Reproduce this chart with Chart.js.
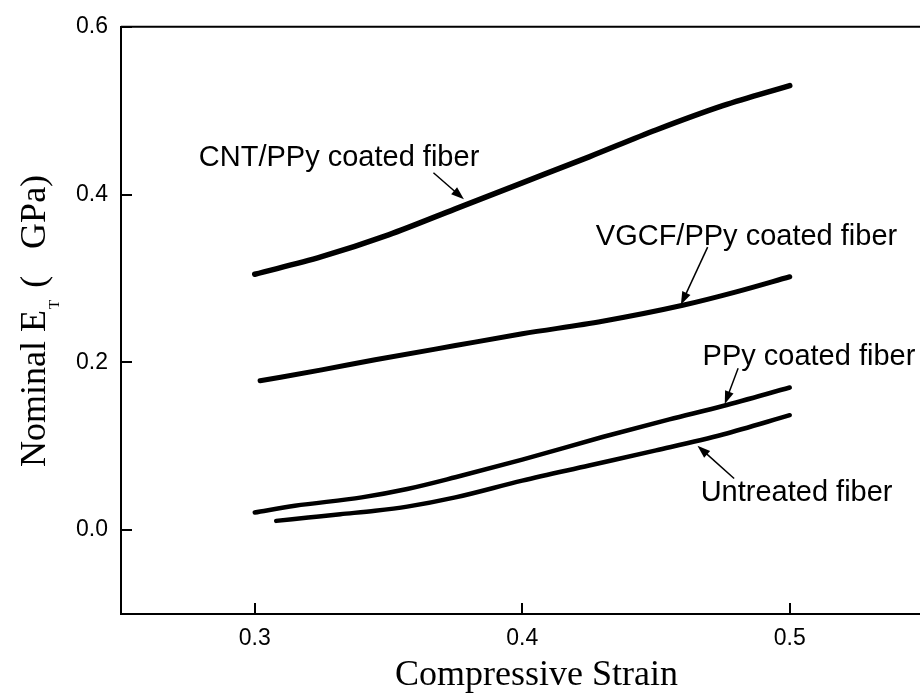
<!DOCTYPE html>
<html>
<head>
<meta charset="utf-8">
<script src="https://cdn.jsdelivr.net/npm/chart.js@4.4.0/dist/chart.umd.min.js"></script>
<style>
  html, body { margin: 0; padding: 0; background: #fff; overflow: hidden; }
  #wrap { position: relative; width: 930px; height: 700px; }
</style>
</head>
<body>
<div id="wrap"><canvas id="chart"></canvas></div>
<script>
// axis ticks
const xTicks = [0.3, 0.4, 0.5];
const yTicks = [0.0, 0.2, 0.4, 0.6];

// CNT/PPy coated fiber
const cntStrain = [0.300, 0.325, 0.350, 0.375, 0.400, 0.425, 0.450, 0.475, 0.500];
const cntModulus = [0.305, 0.326, 0.352, 0.383, 0.414, 0.445, 0.477, 0.506, 0.530];

// VGCF/PPy coated fiber
const vgcfStrain = [0.302, 0.325, 0.345, 0.375, 0.400, 0.430, 0.460, 0.480, 0.500];
const vgcfModulus = [0.178, 0.191, 0.203, 0.220, 0.234, 0.249, 0.268, 0.284, 0.302];

// PPy coated fiber
const ppyStrain = [0.300, 0.315, 0.340, 0.357, 0.375, 0.400, 0.430, 0.455, 0.475, 0.500];
const ppyModulus = [0.021, 0.029, 0.039, 0.049, 0.063, 0.084, 0.111, 0.132, 0.148, 0.170];

// Untreated fiber
const rawStrain = [0.308, 0.320, 0.332, 0.345, 0.357, 0.375, 0.400, 0.425, 0.450, 0.475, 0.500];
const rawModulus = [0.011, 0.015, 0.019, 0.023, 0.028, 0.039, 0.059, 0.077, 0.095, 0.114, 0.137];

const seriesNames = ['CNT/PPy coated fiber', 'VGCF/PPy coated fiber', 'PPy coated fiber', 'Untreated fiber'];

const toPoints = (xs, ys) => xs.map((x, i) => ({ x: x, y: ys[i] }));

/**
 * label placement in data units: text anchor, arrow tail, arrow tip
 */
const callouts = [
  { at: [0.2791, 0.4343], from: [0.3668, 0.4260], to: [0.3782, 0.3944] },
  { at: [0.4275, 0.3396], from: [0.4693, 0.3373], to: [0.4593, 0.2686] },
  { at: [0.4674, 0.1964], from: [0.4807, 0.1929], to: [0.4757, 0.1503] },
  { at: [0.4667, 0.0347], from: [0.4792, 0.0615], to: [0.4655, 0.1006] },
];

const sansFont = '"Liberation Sans", Arial, sans-serif';
const serifFont = '"Liberation Serif", "Times New Roman", serif';

function drawArrow(ctx, x0, y0, x1, y1) {
  const ang = Math.atan2(y1 - y0, x1 - x0);
  const len = 13;
  const half = 4.5;
  const c = Math.cos(ang), s = Math.sin(ang);
  ctx.lineWidth = 1.5;
  ctx.beginPath();
  ctx.moveTo(x0, y0);
  ctx.lineTo(x1 - c * len * 0.8, y1 - s * len * 0.8);
  ctx.stroke();
  ctx.beginPath();
  ctx.moveTo(x1, y1);
  ctx.lineTo(x1 - c * len + s * half, y1 - s * len - c * half);
  ctx.lineTo(x1 - c * len - s * half, y1 - s * len + c * half);
  ctx.closePath();
  ctx.fill();
}

const frameAndNotes = {
  id: 'frameAndNotes',
  afterDraw: (chart) => {
    const ctx = chart.ctx;
    const area = chart.chartArea;
    const sx = chart.scales.x;
    const sy = chart.scales.y;

    ctx.save();
    ctx.strokeStyle = '#000';
    ctx.fillStyle = '#000';

    // top / right frame
    ctx.lineWidth = 2;
    ctx.beginPath();
    ctx.moveTo(area.left, area.top);
    ctx.lineTo(area.right, area.top);
    ctx.lineTo(area.right, area.bottom);
    ctx.stroke();

    // inward tick marks
    xTicks.forEach(v => {
      const px = Math.round(sx.getPixelForValue(v));
      ctx.beginPath();
      ctx.moveTo(px, area.bottom);
      ctx.lineTo(px, area.bottom - 11);
      ctx.stroke();
    });
    yTicks.forEach(v => {
      const py = Math.round(sy.getPixelForValue(v));
      ctx.beginPath();
      ctx.moveTo(area.left, py);
      ctx.lineTo(area.left + 11, py);
      ctx.stroke();
    });

    // callouts
    ctx.font = `29px ${sansFont}`;
    ctx.textAlign = 'left';
    ctx.textBaseline = 'alphabetic';
    callouts.forEach((c, i) => {
      ctx.fillText(seriesNames[i], sx.getPixelForValue(c.at[0]), sy.getPixelForValue(c.at[1]));
      drawArrow(ctx,
        sx.getPixelForValue(c.from[0]), sy.getPixelForValue(c.from[1]),
        sx.getPixelForValue(c.to[0]), sy.getPixelForValue(c.to[1]));
    });

    // x title
    ctx.font = `36px ${serifFont}`;
    ctx.textAlign = 'center';
    ctx.fillText('Compressive Strain', (area.left + 952) / 2, 685);

    // y title with subscript
    ctx.translate(45, 467);
    ctx.rotate(-Math.PI / 2);
    ctx.textAlign = 'left';
    let pos = 0;
    ctx.font = `36px ${serifFont}`;
    ctx.fillText('Nominal E', pos, 0);
    pos += ctx.measureText('Nominal E').width + 1;
    ctx.font = `15px ${serifFont}`;
    ctx.fillText('T', pos, 14);
    pos += ctx.measureText('T').width + 12;
    ctx.font = `36px ${serifFont}`;
    ctx.fillText('(', pos, 0);
    pos += ctx.measureText('(').width + 27;
    ctx.fillText('GPa)', pos, 0);

    ctx.restore();
  },
};

const lineStyle = (width) => ({
  showLine: true,
  fill: false,
  pointRadius: 0,
  borderColor: '#000',
  backgroundColor: '#000',
  borderWidth: width,
  cubicInterpolationMode: 'monotone',
  borderCapStyle: 'round',
});

new Chart(document.getElementById('chart').getContext('2d'), {
  type: 'scatter',
  data: {
    datasets: [
      { label: seriesNames[0], data: toPoints(cntStrain, cntModulus), ...lineStyle(5.5) },
      { label: seriesNames[1], data: toPoints(vgcfStrain, vgcfModulus), ...lineStyle(5) },
      { label: seriesNames[2], data: toPoints(ppyStrain, ppyModulus), ...lineStyle(4.5) },
      { label: seriesNames[3], data: toPoints(rawStrain, rawModulus), ...lineStyle(4.5) },
    ],
  },
  options: {
    responsive: true,
    maintainAspectRatio: false,
    animation: false,
    events: [],
    layout: {
      padding: { top: 23, right: 6.5, bottom: 0, left: 0 },
    },
    scales: {
      x: {
        type: 'linear',
        position: 'bottom',
        min: 0.25,
        max: 0.55,
        afterBuildTicks: (scale) => { scale.ticks = xTicks.map(v => ({ value: v })); },
        afterFit: (scale) => { scale.height = 86; },
        grid: { display: false, drawTicks: false },
        border: { display: true, color: '#000', width: 2 },
        ticks: {
          padding: 11,
          color: '#000',
          font: { family: sansFont, size: 23 },
          callback: (v) => v.toFixed(1),
        },
      },
      y: {
        type: 'linear',
        position: 'left',
        min: -0.1,
        max: 0.6,
        afterBuildTicks: (scale) => { scale.ticks = yTicks.map(v => ({ value: v })); },
        afterFit: (scale) => { scale.width = 121; },
        grid: { display: false, drawTicks: false },
        border: { display: true, color: '#000', width: 2 },
        ticks: {
          padding: 13,
          color: '#000',
          font: { family: sansFont, size: 23 },
          callback: (v) => v.toFixed(1),
        },
      },
    },
    plugins: {
      legend: { display: false },
      tooltip: { enabled: false },
      title: { display: false },
    },
  },
  plugins: [frameAndNotes],
});
</script>
</body>
</html>
